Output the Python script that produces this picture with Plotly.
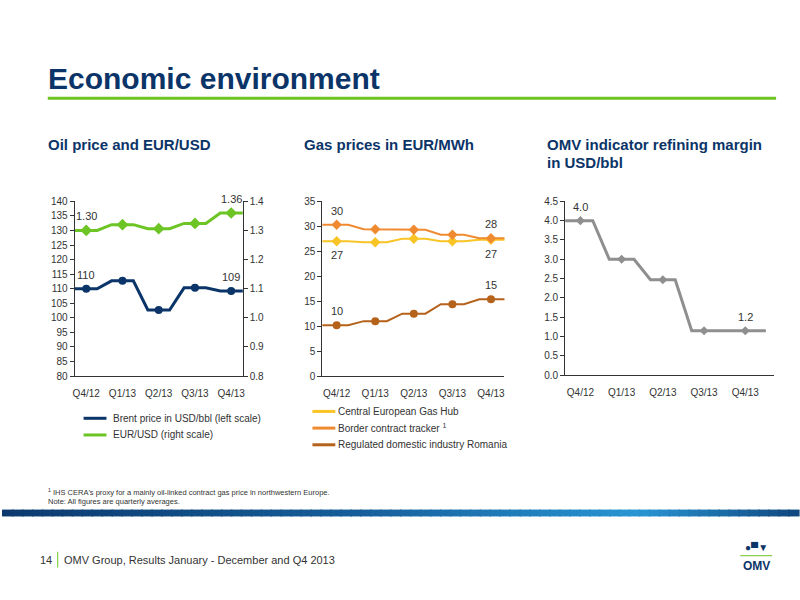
import plotly.graph_objects as go

quarters = ["Q4/12", "Q1/13", "Q2/13", "Q3/13", "Q4/13"]
brent = [110, 112.7, 102.7, 110.3, 109.2]
eurusd = [1.30, 1.32, 1.306, 1.324, 1.36]
gas_ceg = [27.0, 26.8, 27.5, 27.0, 27.3]
gas_border = [30.3, 29.4, 29.3, 28.3, 27.6]
gas_rom = [10.2, 11.0, 12.5, 14.4, 15.4]
margin = [4.0, 3.0, 2.47, 1.15, 1.15]

W, H = 800, 600
def px(x): return x / W
def py(y): return 1 - y / H

NAVY = "#0b3468"; GREEN = "#6cc524"; YEL = "#f8c426"; ORG = "#f08a30"; BRN = "#b5621b"; GREY = "#8f8f8f"
FONT = "Liberation Sans"
NARROW = "Liberation Sans Narrow, Liberation Sans"

def step(vals, h=0.3):
    xs, ys = [], []
    for i, v in enumerate(vals):
        xs += [i - h, i + h]
        ys += [v, v]
    xs[0] = -0.5; xs[-1] = len(vals) - 0.5
    return xs, ys

fig = go.Figure()
def add(vals, color, xa, ya, sym, w=3, ms=8):
    xs, ys = step(vals)
    fig.add_trace(go.Scatter(x=xs, y=ys, mode="lines", line=dict(color=color, width=w), xaxis=xa, yaxis=ya, showlegend=False, hoverinfo="skip"))
    fig.add_trace(go.Scatter(x=list(range(len(vals))), y=vals, mode="markers", marker=dict(color=color, size=ms, symbol=sym), xaxis=xa, yaxis=ya, showlegend=False))

add(eurusd, GREEN, "x", "y2", "diamond", 3, 9)
add(brent, NAVY, "x", "y", "circle", 3, 8)
add(gas_ceg, YEL, "x2", "y3", "diamond", 2, 8)
add(gas_border, ORG, "x2", "y3", "diamond", 2, 8)
add(gas_rom, BRN, "x2", "y3", "circle", 2, 8)
add(margin, GREY, "x3", "y4", "diamond", 3, 7)

tickf = dict(family=FONT, size=10, color="#333")
ax = dict(tickmode="array", tickvals=list(range(5)), ticktext=quarters, showgrid=False, zeroline=False,
          showline=True, linecolor="#333", ticks="outside", ticklen=8, tickcolor="rgba(0,0,0,0)", tickfont=tickf)
ay = dict(showgrid=False, zeroline=False, showline=True, linecolor="#333", ticks="outside", ticklen=4, tickcolor="#333", tickfont=tickf)

fig.update_layout(
    width=W, height=H, margin=dict(l=0, r=0, t=0, b=0), paper_bgcolor="white", plot_bgcolor="white",
    xaxis=dict(ax, domain=[px(73), px(242)], range=[-0.32, 4.32], anchor="y"),
    yaxis=dict(ay, domain=[py(378), py(200)], range=[80, 140], dtick=5, anchor="x"),
    yaxis2=dict(ay, range=[0.8, 1.4], dtick=0.1, tickformat=".1f", overlaying="y", side="right", anchor="x"),
    xaxis2=dict(ax, domain=[px(322), px(505)], range=[-0.37, 4.35], anchor="y3"),
    yaxis3=dict(ay, domain=[py(378), py(200)], range=[0, 35], dtick=5, anchor="x2"),
    xaxis3=dict(ax, domain=[px(566), px(776)], range=[-0.37, 4.7], anchor="y4"),
    yaxis4=dict(ay, domain=[py(377), py(200)], range=[0, 4.5], dtick=0.5, tickformat=".1f", anchor="x3"),
)

anns = []
def lab(x, y, t, xr, yr, yshift):
    anns.append(dict(x=x, y=y, xref=xr, yref=yr, text=t, showarrow=False, yshift=yshift,
                     font=dict(family=FONT, size=11, color="#333")))
lab(0, eurusd[0], "1.30", "x", "y2", 14); lab(4, eurusd[4], "1.36", "x", "y2", 14)
lab(0, brent[0], "110", "x", "y", 14); lab(4, brent[4], "109", "x", "y", 14)
lab(0, gas_border[0], "30", "x2", "y3", 14); lab(4, gas_border[4], "28", "x2", "y3", 14)
lab(0, gas_ceg[0], "27", "x2", "y3", -14); lab(4, gas_ceg[4], "27", "x2", "y3", -14)
lab(0, gas_rom[0], "10", "x2", "y3", 14); lab(4, gas_rom[4], "15", "x2", "y3", 14)
lab(0, margin[0], "4.0", "x3", "y4", 14); lab(4, margin[4], "1.2", "x3", "y4", 14)

def txt(x, y, t, size, color="#333", bold=False, anchor="left", fam=FONT):
    anns.append(dict(x=px(x), y=py(y), xref="paper", yref="paper", text=("<b>%s</b>" % t) if bold else t,
                     showarrow=False, xanchor=anchor, yanchor="middle",
                     font=dict(family=fam, size=size, color=color)))
txt(44, 75, "Economic environment", 30, NAVY, True, fam=NARROW)
txt(44, 142, "Oil price and EUR/USD", 15, NAVY, True, fam=NARROW)
txt(302, 142, "Gas prices in EUR/MWh", 15, NAVY, True, fam=NARROW)
txt(546, 142, "OMV indicator refining margin", 15, NAVY, True, fam=NARROW)
txt(546, 160, "in USD/bbl", 15, NAVY, True, fam=NARROW)
txt(110, 421, "Brent price in USD/bbl (left scale)", 10)
txt(110, 438, "EUR/USD (right scale)", 10)
txt(336, 414, "Central European Gas Hub", 10)
txt(336, 431, "Border contract tracker <sup>1</sup>", 10)
txt(336, 448, "Regulated domestic industry Romania", 10)
txt(44, 496, "<sup>1</sup> IHS CERA's proxy for a mainly oil-linked contract gas price in northwestern Europe.", 7.5, fam=NARROW)
txt(44, 506, "Note: All figures are quarterly averages.", 7.5, fam=NARROW)
txt(36, 565, "14", 11, fam=NARROW)
txt(60, 565, "OMV Group, Results January - December and Q4 2013", 11, fam=NARROW)
txt(758, 571, "<b>OMV</b>", 12, NAVY, False, "center")
txt(758, 552, "<b>●▀▼</b>", 10, NAVY, False, "center")
fig.update_layout(annotations=anns)

shapes = [dict(type="line", xref="paper", yref="paper", x0=px(46), x1=px(778), y0=py(95), y1=py(95), line=dict(color=GREEN, width=3)),
          dict(type="line", xref="paper", yref="paper", x0=px(56), x1=px(56), y0=py(557), y1=py(573), line=dict(color=GREEN, width=1)),
          dict(type="line", xref="paper", yref="paper", x0=px(742), x1=px(774), y0=py(561), y1=py(561), line=dict(color=GREEN, width=1))]
for (y, c) in [(421, NAVY), (438, GREEN), (414, YEL), (431, ORG), (448, BRN)]:
    x0 = 82 if y in (421, 438) else 312
    shapes.append(dict(type="line", xref="paper", yref="paper", x0=px(x0), x1=px(x0 + 23), y0=py(y), y1=py(y), line=dict(color=c, width=3)))
stops = [(0.0, (13, 58, 110)), (0.45, (22, 95, 155)), (0.8, (40, 150, 212)), (1.0, (16, 70, 125))]
N = 80
def col(t):
    for (a, ca), (b, cb) in zip(stops, stops[1:]):
        if a <= t <= b:
            f = (t - a) / (b - a)
            return "rgb(%d,%d,%d)" % tuple(int(ca[k] + (cb[k] - ca[k]) * f) for k in range(3))
for i in range(N):
    shapes.append(dict(type="rect", xref="paper", yref="paper", x0=i / N, x1=(i + 1) / N + 0.002, y0=py(521), y1=py(514),
                       line=dict(width=0), fillcolor=col((i + 0.5) / N), layer="below"))
fig.update_layout(shapes=shapes)

fig.write_html("out.html", config={"displayModeBar": False}, post_script="document.body.style.margin='0';")
